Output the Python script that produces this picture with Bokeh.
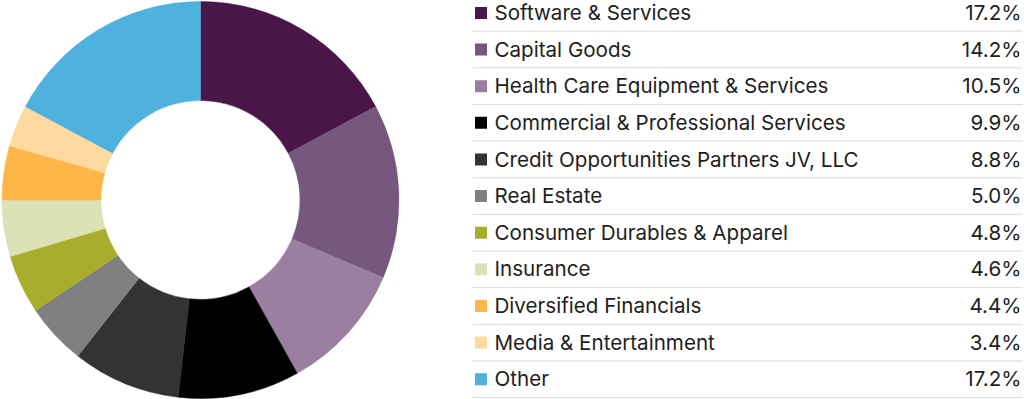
import numpy as np
from bokeh.plotting import figure
from bokeh.models import Range1d, ColumnDataSource
from bokeh.core.properties import value
from bokeh.embed import file_html
from bokeh.resources import INLINE

categories = ["Software & Services", "Capital Goods", "Health Care Equipment & Services",
              "Commercial & Professional Services", "Credit Opportunities Partners JV, LLC",
              "Real Estate", "Consumer Durables & Apparel", "Insurance",
              "Diversified Financials", "Media & Entertainment", "Other"]
values = [17.2, 14.2, 10.5, 9.9, 8.8, 5.0, 4.8, 4.6, 4.4, 3.4, 17.2]
colors = ["#4a1548", "#76577e", "#9b7fa0", "#000000", "#333333", "#808080",
          "#a8ad2c", "#dce2b5", "#fdb748", "#fed9a0", "#4fb1de"]
labels = [f"{v:.1f}%" for v in values]

W, H = 1024, 399
p = figure(width=W, height=H, output_backend="svg", toolbar_location=None,
           x_range=Range1d(0, W), y_range=Range1d(0, H), min_border=0)
p.axis.visible = False
p.grid.visible = False
p.outline_line_color = None

vals = np.array(values)
frac = vals / vals.sum()
cum = np.concatenate([[0], np.cumsum(frac)])
start = np.pi / 2 - 2 * np.pi * cum[:-1]
end = np.pi / 2 - 2 * np.pi * cum[1:]
wsrc = ColumnDataSource(dict(start=start, end=end, color=colors))
p.annular_wedge(x=200, y=H - 199.5, inner_radius=99.5, outer_radius=198.5,
                inner_radius_units="screen", outer_radius_units="screen",
                start_angle="start", end_angle="end", direction="clock",
                fill_color="color", line_color="color", line_width=0.5, source=wsrc)

n = len(categories)
row_h = 36.63
ys = [H - (12.0 + i * row_h) for i in range(n)]
line_ys = [H - (30.7 + i * row_h) for i in range(n)]
src = ColumnDataSource(dict(y=ys, cat=categories, lab=labels, color=colors))
p.segment(x0=472, x1=1022, y0=line_ys, y1=line_ys, line_color="#dcdcdc", line_width=1)
p.scatter(x=480.5, y=[y - 0.4 for y in ys], marker="square", size=12, fill_color=colors,
          line_color=None)
p.text(x=494, y="y", text="cat", source=src, text_font=value("Inter"),
       text_font_size="20.6px", text_baseline="middle", text_align="left", text_color="#1e1e1e")
p.text(x=1021, y="y", text="lab", source=src, text_font=value("Inter"),
       text_font_size="20.6px", text_baseline="middle", text_align="right", text_color="#1e1e1e")

html = file_html(p, INLINE)
html = html.replace("<head>", "<head><style>html,body{margin:0;padding:0;overflow:hidden;}</style>", 1)
open("out.html", "w").write(html)
